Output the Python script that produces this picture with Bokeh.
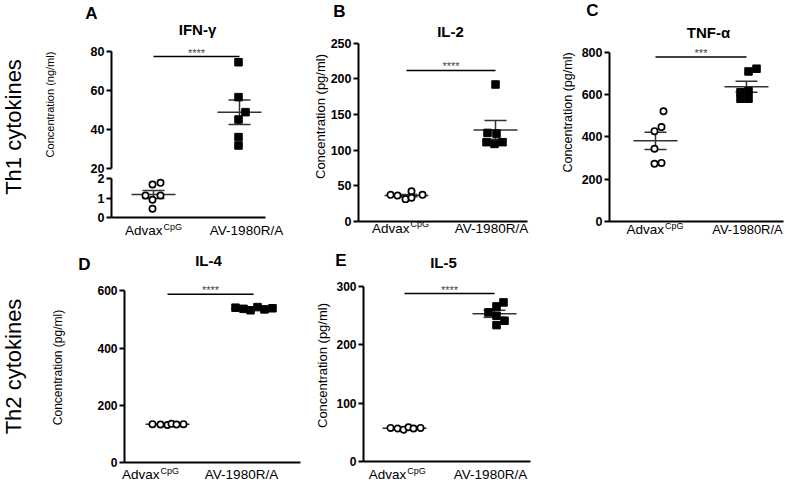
import math
import numpy as np
from bokeh.plotting import figure
from bokeh.models import Range1d, FixedTicker, Label, LinearAxis
from bokeh.embed import file_html
from bokeh.resources import INLINE

FONT = "Liberation Sans"

# ---------------- data ----------------
groups = ["Advax", "AV-1980R/A"]
group_sup = ["CpG", ""]

ifng_advax = [1.70, 1.79, 1.13, 0.91, 1.13, 0.44]
ifng_av = [74.5, 56.6, 48.9, 45.1, 36.1, 31.8]
il2_advax = [37, 36, 31, 42, 33, 37]
il2_av = [192, 124, 123, 111, 108.5, 111]
tnfa_advax = [521, 446, 427, 344, 273, 277]
tnfa_av = [709, 722, 616, 611, 580, 580]
il4_advax = [134, 133, 131, 135, 133, 134]
il4_av = [541, 537, 532, 543, 535, 539]
il5_advax = [58, 57, 55, 59, 57, 58]
il5_av = [272.8, 265.9, 255.7, 250, 241.4, 233.9]

sig_text = ["****", "****", "***", "****", "****"]
sig_y = [77.4, 211.7, 777, 588, 288]

ticks_ifng_upper = [20, 40, 60, 80]
ticks_ifng_lower = [0, 1, 2]
ticks_il2 = [0, 50, 100, 150, 200, 250]
ticks_tnfa = [0, 200, 400, 600, 800]
ticks_il4 = [0, 200, 400, 600]
ticks_il5 = [0, 100, 200, 300]

titles = ["IFN-γ", "IL-2", "TNF-α", "IL-4", "IL-5"]
letters = ["A", "B", "C", "D", "E"]
ylabels = ["Concentration (ng/ml)", "Concentration (pg/ml)", "Concentration (pg/ml)",
           "Concentration (pg/ml)", "Concentration (pg/ml)"]
row_labels = ["Th1 cytokines", "Th2 cytokines"]

# horizontal spread of the points (px) -- style only
jit_ifng_advax = [-1, 7, -8, -1, 7, -1]
jit_ifng_av = [-1, -1, 6, -1, -1, -1]
jit_il2_advax = [-16, -9, -1, 5, 5, 16]
jit_il2_av = [0, -8, 1, -9, -1, 7]
jit_tnfa_advax = [8, 6, -1, -1, -1, 6]
jit_tnfa_av = [2, 10, 2, -6, -6, 2]
jit_il4_advax = [-15, -7, 0, 4, 9, 16]
jit_il4_av = [-18, -10, -3, 4, 11, 19]
jit_il5_advax = [-14, -7, -1, 4, 9, 16]
jit_il5_av = [9, 2, -6, 2, 10, 2]

# ---------------- layout (canvas pixels) ----------------
W, H = 784, 484
CDX = -12      # shift of panel C (fit the window)
BDY = -18      # shift of the bottom row (fit the window)
MEAN_HALF = 22
CAP_HALF = 11

p = figure(width=W, height=H, x_range=Range1d(0, W), y_range=Range1d(H, 0),
           min_border=0, min_border_left=0, min_border_right=0,
           min_border_top=0, min_border_bottom=0,
           toolbar_location=None, output_backend="svg", title=None,
           x_axis_location=None, y_axis_location=None)
for g in p.grid:
    g.visible = False
p.outline_line_color = None
p.background_fill_color = "white"
p.border_fill_color = "white"


def x_range_for(p1, p2):
    s = p2 - p1
    return Range1d(1 - p1 / s, 1 + (W - p1) / s), s


def y_range_for(va, pa, vb, pb):
    k = (pa - pb) / (vb - va)
    return Range1d(va - (H - pa) / k, va + pa / k)


def add_yaxis(name_x, name_y, xloc, ticks, fs):
    ax = LinearAxis(x_range_name=name_x, y_range_name=name_y, fixed_location=xloc,
                    bounds=(ticks[0], ticks[-1]),
                    ticker=FixedTicker(ticks=ticks, minor_ticks=[]),
                    axis_line_width=2, axis_line_color="black",
                    major_tick_line_width=2, major_tick_line_color="black",
                    major_tick_in=0, major_tick_out=5,
                    minor_tick_line_color=None,
                    major_label_text_font=FONT, major_label_text_font_style="bold",
                    major_label_text_font_size=fs, major_label_standoff=2,
                    major_label_text_color="black")
    p.add_layout(ax, "left")


def add_xaxis(name_x, name_y, x0, x1):
    ax = LinearAxis(x_range_name=name_x, y_range_name=name_y, fixed_location=0,
                    bounds=(x0, x1),
                    ticker=FixedTicker(ticks=[], minor_ticks=[]),
                    axis_line_width=2, axis_line_color="black",
                    major_tick_line_color=None, minor_tick_line_color=None,
                    major_label_text_font_size="0px")
    p.add_layout(ax, "below")


def tlabel(x, y, text, size, style="normal", align="center", angle=0.0, color="black"):
    p.add_layout(Label(x=x, y=y, text=text, text_font=FONT, text_font_size=f"{size}px",
                       text_font_style=style, text_align=align,
                       text_baseline="middle", angle=angle, text_color=color))


def group(nx, ny, c, s, vals, jit, kind):
    m = float(np.mean(vals))
    se = float(np.std(vals, ddof=1) / np.sqrt(len(vals)))
    hw = MEAN_HALF / s
    cw = CAP_HALF / s
    p.segment(x0=[c - hw, c, c - cw, c - cw], x1=[c + hw, c, c + cw, c + cw],
              y0=[m, m - se, m + se, m - se], y1=[m, m + se, m + se, m - se],
              line_color="#333333", line_width=1.5, x_range_name=nx, y_range_name=ny)
    xs = [c + j / s for j in jit]
    if kind == "open":
        p.scatter(x=xs, y=vals, marker="circle", size=6.3, fill_color="white",
                  line_color="black", line_width=1.7, x_range_name=nx, y_range_name=ny)
    else:
        p.scatter(x=xs, y=vals, marker="square", size=7.5, fill_color="black",
                  line_color="black", line_width=1, x_range_name=nx, y_range_name=ny)


def sig(nx, ny, k):
    p.segment(x0=[1], x1=[2], y0=[sig_y[k]], y1=[sig_y[k]], line_color="black",
              line_width=1.5, x_range_name=nx, y_range_name=ny)
    p.add_layout(Label(x=1.5, y=sig_y[k], x_range_name=nx, y_range_name=ny,
                       text=sig_text[k], text_align="center", text_baseline="middle",
                       y_offset=4, text_font=FONT, text_font_size="11px",
                       text_color="#444444"))


def xlabels(cx_adv, cx_av, yc, fs=13.5, fs_av=13.5):
    w_main = 2.779 * fs
    w_sup = 2.056 * 9
    start = cx_adv - (w_main + w_sup + 1) / 2
    tlabel(start, yc, groups[0], fs, align="left")
    tlabel(start + w_main + 1, yc - 4, group_sup[0], 9, align="left")
    tlabel(cx_av, yc, groups[1], fs_av, align="center")


def panel(name, L, R, p1, p2, yspec, ticks, tick_fs, adv, jadv, av, jav, k):
    xr, s = x_range_for(p1, p2)
    p.extra_x_ranges[name] = xr
    p.extra_y_ranges[name] = y_range_for(*yspec)
    xL = 1 - (p1 - L) / s
    xR = 1 + (R - p1) / s
    add_yaxis(name, name, xL, ticks, tick_fs)
    add_xaxis(name, name, xL, xR)
    group(name, name, 1, s, adv, jadv, "open")
    group(name, name, 2, s, av, jav, "filled")
    sig(name, name, k)


# ---------------- row labels ----------------
tlabel(13, 126.5, row_labels[0], 22, angle=math.pi / 2)
tlabel(13, 384 + BDY, row_labels[1], 22, angle=math.pi / 2)

# ---------------- panel A (broken axis) ----------------
L, R, p1, p2 = 111, 265, 153, 239
xrA, sA = x_range_for(p1, p2)
p.extra_x_ranges["A"] = xrA
p.extra_y_ranges["A_up"] = y_range_for(20, 168, 80, 51)
p.extra_y_ranges["A_low"] = y_range_for(0, 216.7, 2, 178.3)
xLA = 1 - (p1 - L) / sA
xRA = 1 + (R - p1) / sA
add_yaxis("A", "A_up", xLA, ticks_ifng_upper, "12.5px")
add_yaxis("A", "A_low", xLA, ticks_ifng_lower, "12.5px")
add_xaxis("A", "A_low", xLA, xRA)
group("A", "A_low", 1, sA, ifng_advax, jit_ifng_advax, "open")
group("A", "A_up", 2, sA, ifng_av, jit_ifng_av, "filled")
sig("A", "A_up", 0)
tlabel(91, 13.3, letters[0], 17, style="bold")
tlabel(197, 29, titles[0], 15, style="bold")
tlabel(49, 104, ylabels[0], 11, angle=math.pi / 2)
xlabels(153, 246, 230)

# ---------------- panel B ----------------
panel("B", 358, 527, 406, 495, (0, 220.7, 250, 42.7), ticks_il2, "12.5px",
      il2_advax, jit_il2_advax, il2_av, jit_il2_av, 1)
tlabel(339, 10.8, letters[1], 17, style="bold")
tlabel(450, 30.5, titles[1], 15, style="bold")
tlabel(320, 116, ylabels[1], 13, angle=math.pi / 2)
xlabels(400, 491, 227.5)

# ---------------- panel C ----------------
panel("C", 621 + CDX, 795 + CDX, 667 + CDX, 758 + CDX, (0, 221, 800, 51.7), ticks_tnfa,
      "12.5px", tnfa_advax, jit_tnfa_advax, tnfa_av, jit_tnfa_av, 2)
tlabel(604 + CDX, 10, letters[2], 17, style="bold")
tlabel(720 + CDX, 31.5, titles[2], 15, style="bold")
tlabel(579 + CDX, 112, ylabels[2], 12.5, angle=math.pi / 2)
xlabels(666.5 + CDX, 759 + CDX, 229, fs_av=13)

# ---------------- panel D ----------------
panel("D", 124, 300, 167, 253, (0, 480 + BDY, 600, 308.3 + BDY), ticks_il4, "12px",
      il4_advax, jit_il4_advax, il4_av, jit_il4_av, 3)
tlabel(84, 282 + BDY, letters[3], 17, style="bold")
tlabel(208, 278.3 + BDY, titles[3], 15, style="bold")
tlabel(57.5, 385 + BDY, ylabels[3], 12, angle=math.pi / 2)
xlabels(150, 241, 492 + BDY)

# ---------------- panel E ----------------
panel("E", 363, 530, 404, 494, (0, 479.3 + BDY, 300, 304 + BDY), ticks_il5, "12px",
      il5_advax, jit_il5_advax, il5_av, jit_il5_av, 4)
tlabel(340.5, 278 + BDY, letters[4], 17, style="bold")
tlabel(443, 280 + BDY, titles[4], 15, style="bold")
tlabel(321.5, 383 + BDY, ylabels[4], 13, angle=math.pi / 2)
xlabels(396.7, 490, 492 + BDY)

open("out.html", "w").write(file_html(p, INLINE))
